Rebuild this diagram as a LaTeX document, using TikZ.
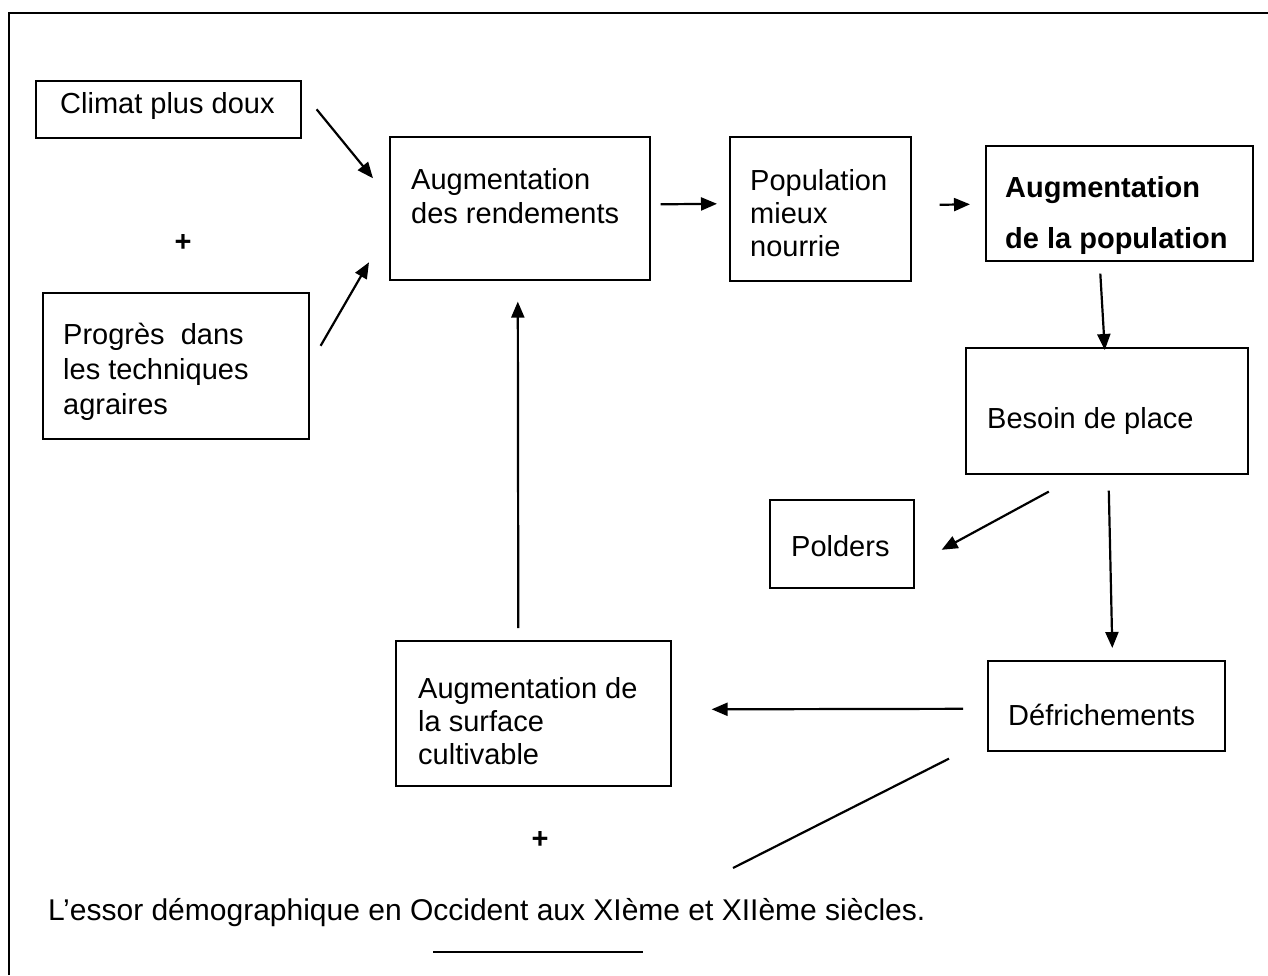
\documentclass[tikz,border=0pt]{standalone}
\usepackage{fontspec}
\setmainfont{Liberation Sans}
\usepackage{tikz}
\usetikzlibrary{arrows.meta,positioning,calc}
\tikzset{>={Triangle[length=16pt,width=13pt]}}

\begin{document}
\begin{tikzpicture}[x=1pt, y=-1pt, every node/.style={font=\fontsize{29}{34}\selectfont},
		box/.style={draw, line width=1.6pt, anchor=north west, inner sep=0pt},
		txt/.style={anchor=north west, inner sep=0pt, align=left},
		link/.style={->, line width=2.2pt}]
			\useasboundingbox (0,0) rectangle (1268,975);
			% outer frame (cut on the right and at the bottom)
			\draw[line width=2pt] (9,975) -- (9,13) -- (1268,13);
			
			% boxes, left column
			\node[box, minimum width=265pt, minimum height=57pt] (clim) at (35,80) {};
			\node[txt] (climtxt) at (60,92) {Climat plus doux};
			\node[font=\fontsize{29}{34}\selectfont\bfseries] (plus1) at (183,243) {+};
			\node[box, minimum width=266pt, minimum height=146pt] (prog) at (42,292) {};
			\node[txt, font=\fontsize{29}{35}\selectfont] (progtxt) at (63,323) {Progrès\ \ dans\\les techniques\\agraires};
			
			% boxes, top row
			\node[box, minimum width=260pt, minimum height=143pt] (rend) at (389,136) {};
			\node[txt] (rendtxt) at (411,168) {Augmentation\\des rendements};
			\node[box, minimum width=181pt, minimum height=144pt] (pop) at (729,136) {};
			\node[txt, font=\fontsize{29}{33}\selectfont] (poptxt) at (750,169) {Population\\mieux\\nourrie};
			\node[box, minimum width=267pt, minimum height=115pt] (augpop) at (985,145) {};
			\node[txt, font=\fontsize{29}{51}\selectfont\bfseries] (augpoptxt) at (1005,176) {Augmentation\\de la population};
			
			% boxes, right column
			\node[box, minimum width=282pt, minimum height=126pt] (besoin) at (965,347) {};
			\node[txt] (besointxt) at (987,407) {Besoin de place};
			\node[box, minimum width=144pt, minimum height=88pt] (polders) at (769,499) {};
			\node[txt] (polderstxt) at (791,535) {Polders};
			\node[box, minimum width=237pt, minimum height=90pt] (defr) at (987,660) {};
			\node[txt] (defrtxt) at (1008,704) {Défrichements};
			
			% box, bottom
			\node[box, minimum width=275pt, minimum height=145pt] (surf) at (395,640) {};
			\node[txt, font=\fontsize{29}{33}\selectfont] (surftxt) at (418,677) {Augmentation de\\la surface\\cultivable};
			\node[font=\fontsize{29}{34}\selectfont\bfseries] (plus2) at (540,840) {+};
			
			% arrows
			\draw[link] ([shift={(15,0)}]clim.east) -- ([shift={(-16,-30)}]rend.west);
			\draw[link] ([shift={(11,-20)}]prog.east) -- ([shift={(-20,54)}]rend.west);
			\draw[link] ([shift={(10,-4)}]rend.east) -- ([shift={(-12,-5)}]pop.west);
			\draw[link] ([shift={(28,-4)}]pop.east) -- ([shift={(-15,1)}]augpop.west);
			\draw[link] ([shift={(-19,12)}]augpop.south) -- ([shift={(-2,3)}]besoin.north);
			\draw[link] ([shift={(-58,17)}]besoin.south) -- ([shift={(27,6)}]polders.east);
			\draw[link] ([shift={(2,16)}]besoin.south) -- ([shift={(6,-12)}]defr.north);
			\draw[link] ([shift={(-24,3)}]defr.west) -- ([shift={(40,-4)}]surf.east);
			\draw[link] ([shift={(-15,-12)}]surf.north) -- ([shift={(-2,21)}]rend.south);
			\coordinate (cut) at (733,868);
			\draw[line width=2.2pt] ([shift={(-38,7)}]defr.south west) -- (cut);
			
			% caption
			\node[txt, font=\fontsize{30}{36}\selectfont] (title) at (48,898) {L’essor démographique en Occident aux XIème et XIIème siècles.};
			\draw[line width=1.8pt] (433,952) -- (643,952);
		\end{tikzpicture}
\end{document}
